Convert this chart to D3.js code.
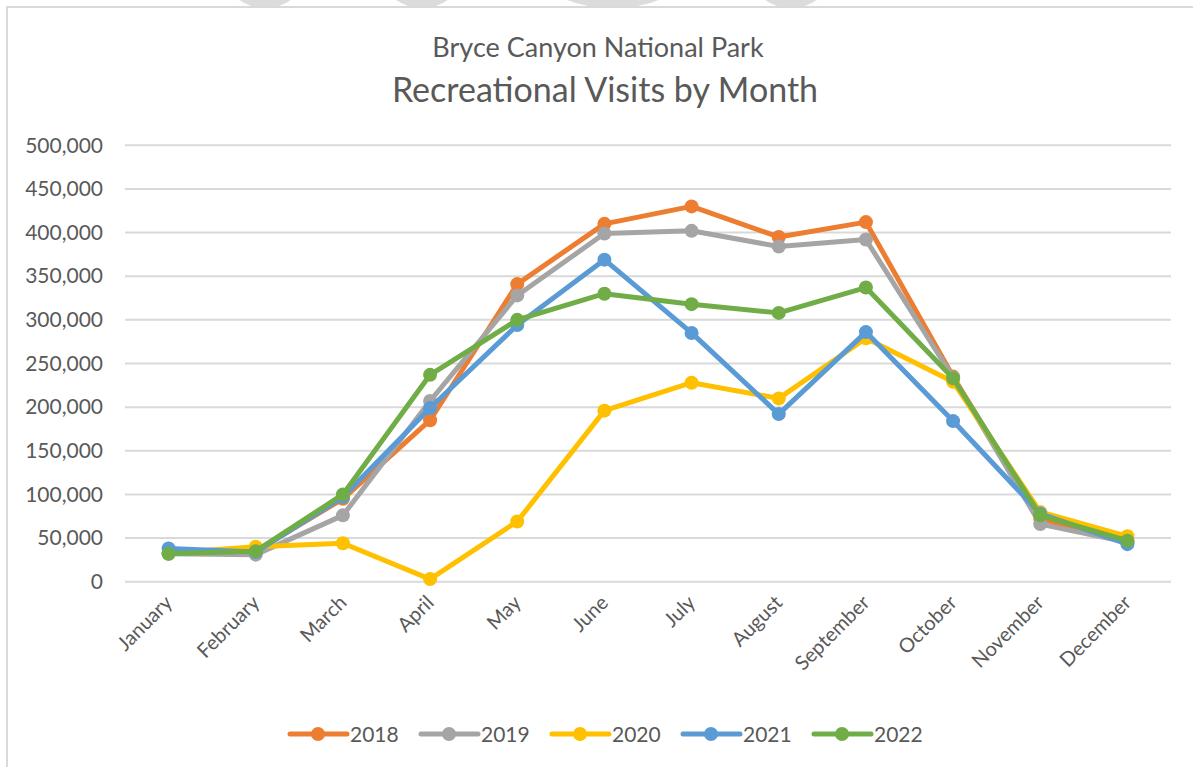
<!DOCTYPE html>
<html>
<head>
<meta charset="utf-8">
<script src="https://cdn.jsdelivr.net/npm/d3@7"></script>
<style>
  body { margin: 0; background: #fff; }
  svg { display: block; font-family: Lato, "Open Sans", sans-serif; }
</style>
</head>
<body>
<svg id="chart" width="1193" height="767"></svg>
<script>
// Data
var months = ['January', 'February', 'March', 'April', 'May', 'June', 'July',
  'August', 'September', 'October', 'November', 'December']
var years = ['2018', '2019', '2020', '2021', '2022']
var visits2018 = [33000, 35000, 95000, 185000, 341000, 410000, 430000, 395000, 412000, 235000, 72000, 46000]
var visits2019 = [32000, 31000, 76000, 207000, 328000, 399000, 402000, 384000, 392000, 234000, 66000, 45000]
var visits2020 = [33000, 40000, 44000, 3000, 69000, 196000, 228000, 210000, 279000, 229000, 80000, 52000]
var visits2021 = [38000, 34000, 97000, 199000, 294000, 369000, 285000, 192000, 286000, 184000, 78000, 43000]
var visits2022 = [32000, 35000, 100000, 237000, 300000, 330000, 318000, 308000, 337000, 233000, 76000, 47000]
var yTicks = [0, 50000, 100000, 150000, 200000, 250000, 300000, 350000, 400000, 450000, 500000]
var colors = ['#ED7D31', '#A5A5A5', '#FFC000', '#5B9BD5', '#70AD47']

var series = [visits2018, visits2019, visits2020, visits2021, visits2022]
var textColor = '#595959'
var gridColor = '#d9d9d9'
var font = 'Lato, "Open Sans", sans-serif'

var svg = d3.select('#chart')

// faint shapes peeking at the top edge
var blobs = [[265, 28], [422, 28], [613, 50], [791, 28]]
svg.append('g')
  .selectAll('ellipse')
  .data(blobs)
  .enter()
  .append('ellipse')
  .attr('cx', d => d[0])
  .attr('cy', -22)
  .attr('rx', d => d[1] * 1.35)
  .attr('ry', 30)
  .attr('fill', '#dcdcdc')

// chart frame
svg.append('rect')
  .attr('x', 7)
  .attr('y', 7)
  .attr('width', 1200)
  .attr('height', 800)
  .attr('fill', '#fff')
  .attr('stroke', gridColor)
  .attr('stroke-width', 2)

// Titles
svg.append('text')
  .attr('x', 598)
  .attr('y', 57)
  .attr('text-anchor', 'middle')
  .attr('fill', textColor)
  .attr('font-size', 27)
  .text('Bryce Canyon National Park')

svg.append('text')
  .attr('x', 605)
  .attr('y', 102)
  .attr('text-anchor', 'middle')
  .attr('fill', textColor)
  .attr('font-size', 34)
  .text('Recreational Visits by Month')

// Scales
var x = d3.scaleBand().domain(months).range([125, 1171])
var y = d3.scaleLinear().domain([0, 500000]).range([581.7, 145.3])

// Gridlines
svg.append('g')
  .selectAll('line')
  .data(yTicks)
  .enter()
  .append('line')
  .attr('x1', 125)
  .attr('x2', 1171)
  .attr('y1', d => y(d))
  .attr('y2', d => y(d))
  .attr('stroke', gridColor)
  .attr('stroke-width', 2)

// Y axis labels
var yAxis = svg.append('g')
  .attr('transform', 'translate(125,0)')
  .call(d3.axisLeft(y).tickValues(yTicks).tickSize(0).tickPadding(22).tickFormat(d3.format(',')))
yAxis.select('.domain').remove()
yAxis.selectAll('text')
  .attr('fill', textColor)
  .attr('font-size', 21)
  .attr('font-family', font)

// X axis labels
var xAxis = svg.append('g')
  .attr('transform', 'translate(0,592)')
  .call(d3.axisBottom(x).tickSize(0).tickPadding(0))
xAxis.select('.domain').remove()
xAxis.selectAll('text')
  .attr('fill', textColor)
  .attr('font-size', 20)
  .attr('font-family', font)
  .attr('text-anchor', 'end')
  .attr('dy', '0.35em')
  .attr('transform', 'translate(0,7) rotate(-45)')

// Lines
var line = d3.line()
  .x((d, i) => x(months[i]) + x.bandwidth() / 2)
  .y(d => y(d))

series.forEach(function (vals, k) {
  var g = svg.append('g')
  g.append('path')
    .datum(vals)
    .attr('d', line)
    .attr('fill', 'none')
    .attr('stroke', colors[k])
    .attr('stroke-width', 5)
    .attr('stroke-linejoin', 'round')
    .attr('stroke-linecap', 'round')
  g.selectAll('circle')
    .data(vals)
    .enter()
    .append('circle')
    .attr('cx', (d, i) => x(months[i]) + x.bandwidth() / 2)
    .attr('cy', d => y(d))
    .attr('r', 7)
    .attr('fill', colors[k])
})

// Legend
var legend = svg.append('g')
  .selectAll('g')
  .data(years)
  .enter()
  .append('g')
  .attr('transform', (d, i) => 'translate(' + (290 + i * 131) + ',734)')

legend.append('line')
  .attr('x1', 0)
  .attr('x2', 57)
  .attr('stroke', (d, i) => colors[i])
  .attr('stroke-width', 5)
  .attr('stroke-linecap', 'round')
legend.append('circle')
  .attr('cx', 28)
  .attr('r', 7)
  .attr('fill', (d, i) => colors[i])
legend.append('text')
  .attr('x', 60)
  .attr('dy', '0.36em')
  .attr('fill', textColor)
  .attr('font-size', 21)
  .text(d => d)
</script>
</body>
</html>
